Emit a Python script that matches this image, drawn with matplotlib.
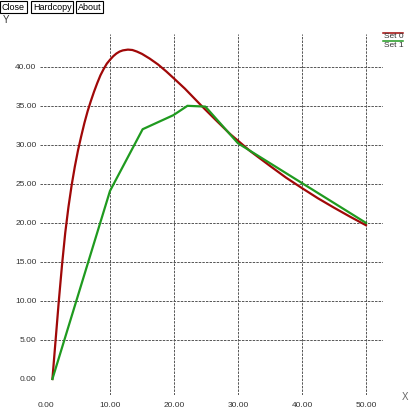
"""
Two data sets (Set 0 / Set 1) drawn in the style of an old X11 plot window.
"""

import matplotlib
matplotlib.use("Agg")
import matplotlib.pyplot as plt
from matplotlib.lines import Line2D

plt.rcParams.update({
    "font.family": ["Liberation Sans", "DejaVu Sans"],
    "figure.facecolor": "white", "axes.facecolor": "white",
})

set0_x = [1.0, 1.5, 2.0, 2.5, 3.0, 3.5, 4.0, 4.5, 5.0, 5.5, 6.0, 6.5, 7.0, 7.5,
          8.0, 8.5, 9.0, 9.5, 10.0, 10.5, 11.0, 11.5, 12.0, 12.8, 13.5, 14.2,
          15.0, 16.2, 17.5, 18.8, 20.0, 21.7, 23.0, 24.3, 26.5, 28.75, 31.9,
          35.0, 37.5, 40.2, 42.5, 45.0, 47.5, 50.0]
set0_y = [0.0, 5.0, 10.0, 14.6, 18.7, 22.0, 24.8, 27.2, 29.3, 31.1, 32.8, 34.3, 35.6, 36.8,
          37.9, 38.9, 39.7, 40.4, 40.9, 41.35, 41.7, 41.95, 42.1, 42.2, 42.15, 41.95,
          41.65, 41.05, 40.3, 39.4, 38.5, 37.2, 36.1, 35.0, 33.2, 31.4, 29.2,
          27.3, 25.8, 24.35, 23.15, 21.95, 20.8, 19.7]
set1_x = [1.0, 10.0, 15.1, 19.9, 22.1, 24.9, 30.0, 50.0]
set1_y = [0.0, 24.1, 32.0, 33.8, 35.0, 34.9, 30.2, 20.0]

xticks = [0, 10, 20, 30, 40, 50]
yticks = [0, 5, 10, 15, 20, 25, 30, 35, 40]
set_names = ["Set 0", "Set 1"]
set_colors = ["#a00808", "#1f9a1f"]

W = 409
fig = plt.figure(figsize=(W / 100, W / 100), dpi=100)
ax = fig.add_axes([40 / W, 1 - 395 / W, 343 / W, 361 / W])

ax.plot(set0_x, set0_y, color=set_colors[0], lw=1.6, zorder=3,
        solid_joinstyle="round")
ax.plot(set1_x, set1_y, color=set_colors[1], lw=1.6, zorder=4)

ax.set_xlim(-0.94, 52.66)
ax.set_ylim(-2.05, 44.2)
ax.set_xticks(xticks)
ax.set_yticks(yticks)
ax.set_xticklabels([f"{v:.2f}" for v in xticks])
ax.set_yticklabels([f"{v:.2f}" for v in yticks])
ax.tick_params(length=0, labelsize=6, labelcolor="#333333")
ax.tick_params(axis="x", pad=5)
ax.tick_params(axis="y", pad=2.5)
for s in ax.spines.values():
    s.set_visible(False)

ax.grid(True, color="#555555", lw=0.7, linestyle=(0, (2.5, 1.2)))
# no grid line on the zero ticks
ax.xaxis.get_gridlines()[0].set_visible(False)
ax.yaxis.get_gridlines()[0].set_visible(False)

# axis names
fig.text(3 / W, 1 - 20 / W, "Y", fontsize=7, color="#333333", va="center", ha="left")
fig.text(405 / W, 1 - 397 / W, "X", fontsize=7, color="#666666", va="center", ha="center")

# legend top-right
for i, (name, col) in enumerate(zip(set_names, set_colors)):
    ly = 33 + i * 8.3
    fig.add_artist(Line2D([383 / W, 403 / W], [1 - ly / W, 1 - ly / W],
                          color=col, lw=1.1, transform=fig.transFigure))
    fig.text(384 / W, 1 - (ly + 4) / W, name, fontsize=6, color="#333333",
             va="center", ha="left")

# buttons on top
for label, x in [("Close", 2), ("Hardcopy", 33), ("About", 78)]:
    fig.text(x / W, 1 - 7 / W, label, fontsize=6.5, color="black", va="center", ha="left",
             bbox=dict(boxstyle="square,pad=0.2", fc="white", ec="black", lw=0.8))

fig.savefig("out.png", dpi=100)
